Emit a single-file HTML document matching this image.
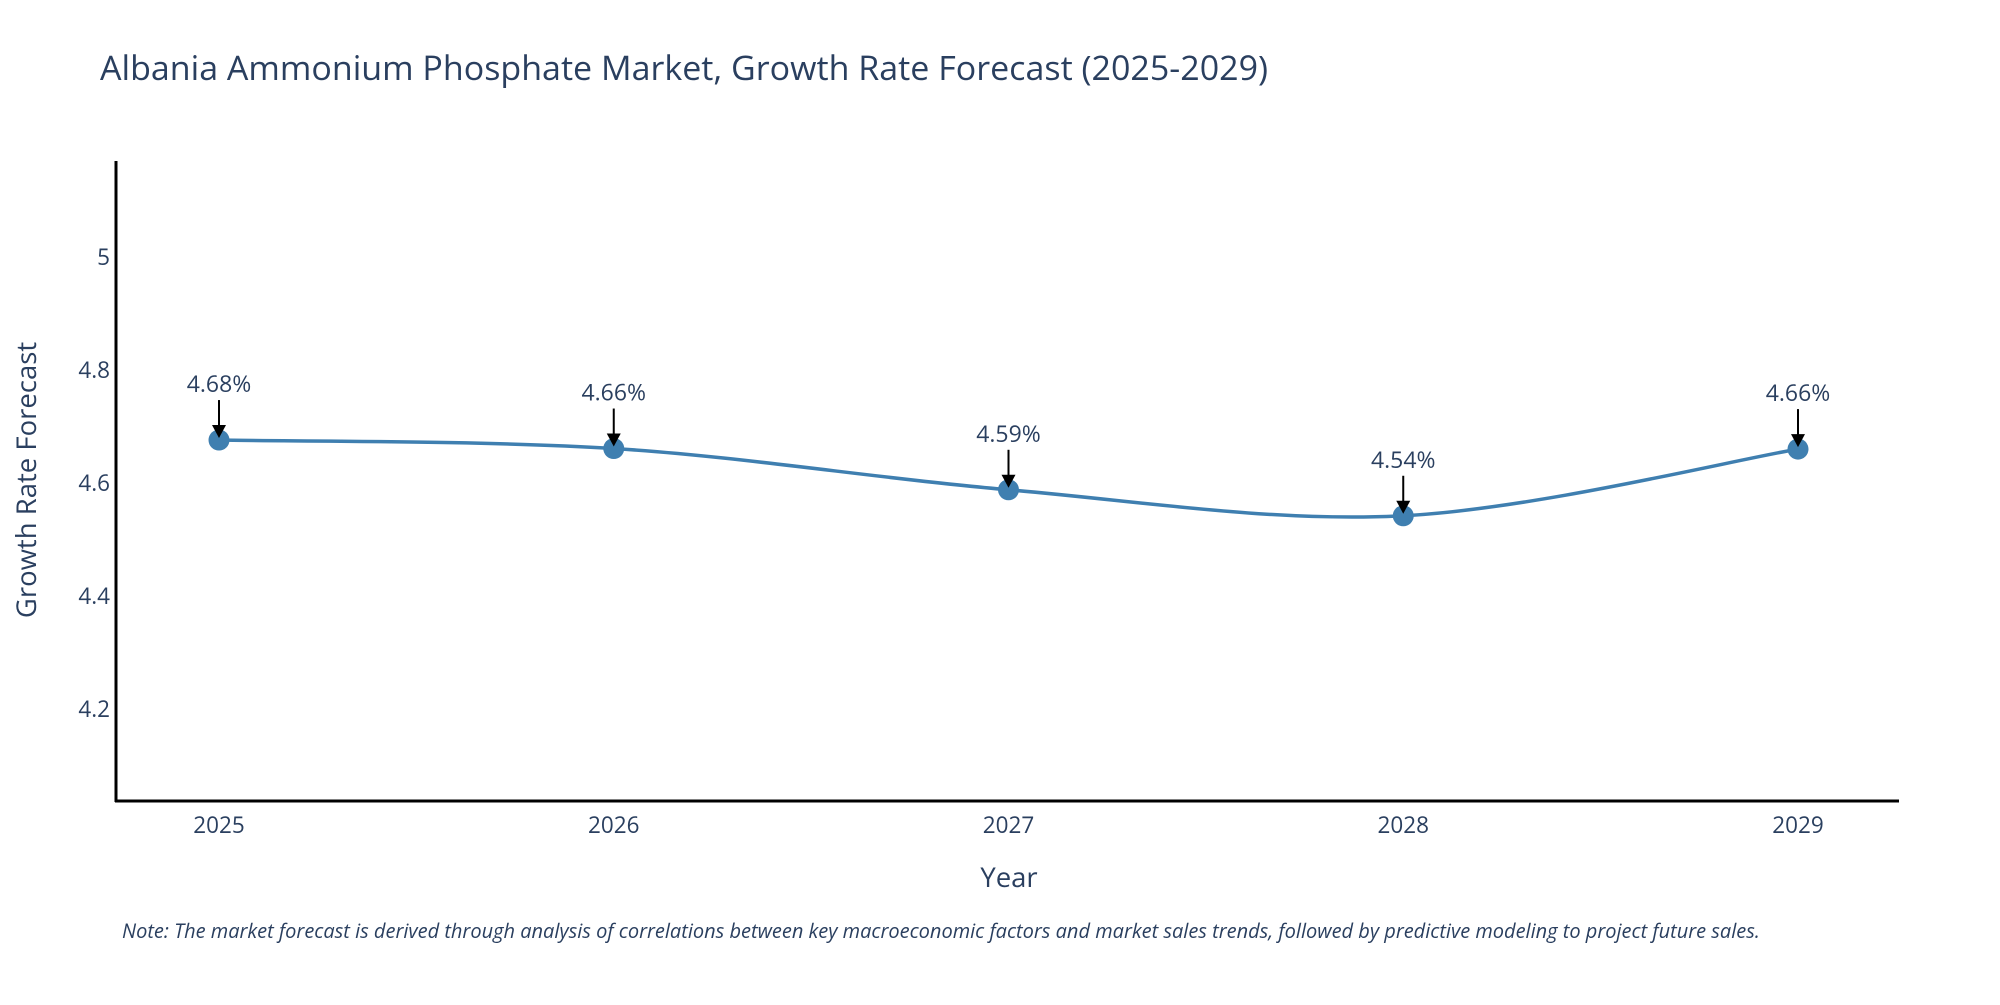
<!DOCTYPE html>
<html><head><meta charset="utf-8"><style>
body{margin:0;background:#fff;}
svg text{font-family:"Open Sans","Liberation Sans",sans-serif;fill:#2a3f5f;}
</style></head><body>
<svg id="c" width="2000" height="1000">
<text x="100" y="80" font-size="34">Albania Ammonium Phosphate Market, Growth Rate Forecast (2025-2029)</text>
<g id="yt"></g><g id="xt"></g>
<line x1="116" y1="161" x2="116" y2="802" stroke="#000" stroke-width="3"/>
<line x1="115" y1="801" x2="1899" y2="801" stroke="#000" stroke-width="3"/>
<path id="ln" fill="none" stroke="#3f7fb0" stroke-width="3.5"/>
<g id="pts"></g>
<text x="1009" y="887" font-size="27.5" text-anchor="middle">Year</text>
<text transform="translate(36,480) rotate(-90)" font-size="27.5" text-anchor="middle">Growth Rate Forecast</text>
<text x="122" y="938" font-size="20" font-style="italic">Note: The market forecast is derived through analysis of correlations between key macroeconomic factors and market sales trends, followed by predictive modeling to project future sales.</text>
</svg>
<script>
const years=["2025","2026","2027","2028","2029"];
const values=[4.676,4.661,4.588,4.542,4.66];
const labels=["4.68%","4.66%","4.59%","4.54%","4.66%"];
const yTicks=[4.2,4.4,4.6,4.8,5];
const NS="http://www.w3.org/2000/svg";
const X=i=>219+i*394.75, Y=v=>483-(v-4.6)*565;
function mk(t,a,p){const e=document.createElementNS(NS,t);for(const k in a)e.setAttribute(k,a[k]);p.appendChild(e);return e;}
const yt=document.getElementById('yt');
yTicks.forEach(v=>{const t=mk('text',{x:110,y:Y(v)+8,'font-size':22.5,'text-anchor':'end'},yt);t.textContent=v;

});
const xt=document.getElementById('xt');
years.forEach((y,i)=>{const t=mk('text',{x:X(i),y:833,'font-size':22.5,'text-anchor':'middle'},xt);t.textContent=y;

});
const P=values.map((v,i)=>[X(i),Y(v)]);
let d=`M${P[0][0]},${P[0][1]}`;
for(let i=0;i<P.length-1;i++){const p0=P[Math.max(0,i-1)],p1=P[i],p2=P[i+1],p3=P[Math.min(P.length-1,i+2)];
d+=` C${p1[0]+(p2[0]-p0[0])/6},${p1[1]+(p2[1]-p0[1])/6} ${p2[0]-(p3[0]-p1[0])/6},${p2[1]-(p3[1]-p1[1])/6} ${p2[0]},${p2[1]}`;}
document.getElementById('ln').setAttribute('d',d);
const g=document.getElementById('pts');
P.forEach((p,i)=>{
const c=mk('circle',{cx:p[0],cy:p[1],r:10.5,fill:'#3f7fb0'},g);


mk('line',{x1:p[0],y1:p[1]-40,x2:p[0],y2:p[1]-12,stroke:'#000','stroke-width':2},g);
const a=mk('path',{d:`M${p[0]-7},${p[1]-15} L${p[0]+7},${p[1]-15} L${p[0]},${p[1]-2} Z`,fill:'#000'},g);


const t=mk('text',{x:p[0],y:p[1]-48,'font-size':23,'text-anchor':'middle'},g);t.textContent=labels[i];


});
</script>
</body></html>
